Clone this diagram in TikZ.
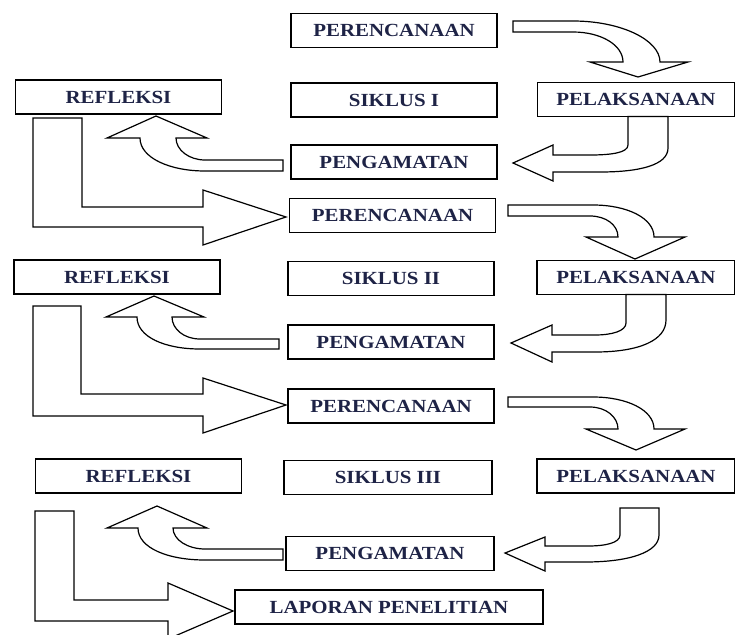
\documentclass[tikz,border=0pt]{standalone}
\usepackage{fontspec}
\setmainfont{Liberation Serif}[FakeStretch=1.13]
\definecolor{ink}{RGB}{30,35,70}

\begin{document}
\begin{tikzpicture}[
    x=1pt,y=-1pt,
    box/.style={draw,black,line width=1.3pt,minimum width=206pt,minimum height=34pt,
      inner sep=0pt,text=ink,font=\fontsize{18.5}{20}\selectfont\bfseries},
    bigarrow/.style={draw,black,line width=1.2pt,fill=white,line join=miter}
    ]
    \useasboundingbox (0,0) rectangle (735,634);
    % siklus I
    \node[box] (per1) at (394,30.5) {PERENCANAAN};
    \node[box] (ref1) at (118.5,97) {REFLEKSI};
    \node[box] (sik1) at (394,100) {SIKLUS I};
    \node[box,minimum width=197pt] (pel1) at (636,99.5) {PELAKSANAAN};
    \node[box] (pen1) at (394,162) {PENGAMATAN};
    % siklus II
    \node[box] (per2) at (392.5,215.5) {PERENCANAAN};
    \node[box] (ref2) at (117,277) {REFLEKSI};
    \node[box] (sik2) at (391,278.5) {SIKLUS II};
    \node[box,minimum width=198pt] (pel2) at (636,277.5) {PELAKSANAAN};
    \node[box] (pen2) at (391,342) {PENGAMATAN};
    % siklus III
    \node[box] (per3) at (391,406) {PERENCANAAN};
    \node[box] (ref3) at (138.5,476) {REFLEKSI};
    \node[box,minimum width=208pt] (sik3) at (388,477.5) {SIKLUS III};
    \node[box,minimum width=198pt] (pel3) at (636,476) {PELAKSANAAN};
    \node[box,minimum width=208pt] (pen3) at (390,553.5) {PENGAMATAN};
    \node[box,minimum width=308pt] (lap) at (389,607) {LAPORAN PENELITIAN};
    % arrows siklus I
    \draw[bigarrow] (513,21) -- (573,21) .. controls (621,21) and (660,40) .. (660,62)
      -- (688,62) -- (638,77) -- (590,62) -- (623,62)
      .. controls (623,45) and (601,32) .. (573,32) -- (513,32) -- cycle;
    \draw[bigarrow] (628,116.5) -- (628,145) .. controls (628,153) and (610,155) .. (590,155)
      -- (553,155) -- (553,145) -- (513,163) -- (553,181) -- (553,172) -- (600,172)
      .. controls (640,172) and (668,165) .. (668,148) -- (668,116.5) -- cycle;
    \draw[bigarrow] (283,160) -- (205,160) .. controls (189,160) and (176,150) .. (176,138)
      -- (207,138) -- (156,116) -- (107,138) -- (140,138)
      .. controls (140,158) and (170,171) .. (205,171) -- (283,171) -- cycle;
    \draw[bigarrow] (33,118) -- (82,118) -- (82,207) -- (203,207) -- (203,190) -- (286,217)
      -- (203,245) -- (203,227) -- (33,227) -- cycle;
    % arrows siklus II
    \draw[bigarrow] (508,205) -- (593,205) .. controls (627,205) and (654,218) .. (654,237)
      -- (685,237) -- (635,259) -- (586,237) -- (618,237)
      .. controls (618,225) and (606,216) .. (590,216) -- (508,216) -- cycle;
    \draw[bigarrow] (626,294.5) -- (626,323) .. controls (626,331) and (612,335) .. (595,335)
      -- (552,335) -- (552,325) -- (511,343) -- (552,362) -- (552,352) -- (595,352)
      .. controls (640,352) and (666,340) .. (666,320) -- (666,294.5) -- cycle;
    \draw[bigarrow] (279,339) -- (200,339) .. controls (184,339) and (172,329) .. (172,317)
      -- (204,317) -- (154,296) -- (106,317) -- (137,317)
      .. controls (137,337) and (165,349) .. (200,349) -- (279,349) -- cycle;
    \draw[bigarrow] (33,306) -- (81,306) -- (81,394) -- (203,394) -- (203,378) -- (286,405)
      -- (203,433) -- (203,416) -- (33,416) -- cycle;
    % arrows siklus III
    \draw[bigarrow] (508,397) -- (593,397) .. controls (627,397) and (654,410) .. (654,429)
      -- (685,429) -- (636,450) -- (586,429) -- (618,429)
      .. controls (618,417) and (606,407) .. (590,407) -- (508,407) -- cycle;
    \draw[bigarrow] (620,508) -- (620,535) .. controls (620,543) and (605,546) .. (588,546)
      -- (545,546) -- (545,537) -- (505,553) -- (545,571) -- (545,562) -- (585,562)
      .. controls (630,562) and (659,552) .. (659,535) -- (659,508) -- cycle;
    \draw[bigarrow] (283,549) -- (205,549) .. controls (188,549) and (173,540) .. (173,528)
      -- (207,528) -- (157,506) -- (107,528) -- (138,528)
      .. controls (138,548) and (168,560) .. (205,560) -- (283,560) -- cycle;
    \draw[bigarrow] (35,511) -- (74,511) -- (74,600) -- (168,600) -- (168,583) -- (233,611)
      -- (168,639) -- (168,621) -- (35,621) -- cycle;
\end{tikzpicture}
\end{document}
